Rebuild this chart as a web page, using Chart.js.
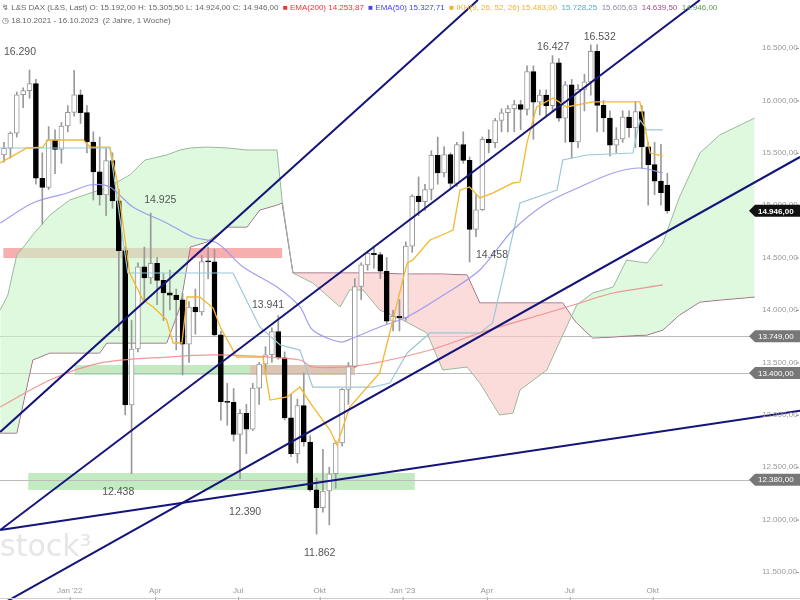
<!DOCTYPE html>
<html><head><meta charset="utf-8">
<script src="https://cdn.jsdelivr.net/npm/chart.js@4"></script>
<style>html,body{margin:0;padding:0;background:#fff}#w{width:800px;height:600px}</style>
</head><body><div id="w"><canvas id="c" width="800" height="600"></canvas></div>
<script>
// weekly candles 18.10.2021 - 16.10.2023 (index = week)
const opens=[15480,15543,15688,16054,16094,16160,15257,15169,15623,15532,15756,15885,16052,15883,15603,15318,15099,15425,15042,14567,13094,13628,14413,14305,14446,14283,14163,14142,14098,13674,14027,13982,14462,14460,13762,13126,13118,12813,13015,12864,13254,13484,13573,13795,13544,12971,12630,13088,12741,12284,12114,12273,12438,12731,13243,13460,14224,14431,14541,14529,14370,13893,13940,13924,14610,15086,15033,15150,15476,15307,15482,15209,15578,15427,14768,14957,15629,15597,15808,15882,15922,15961,15914,16275,15984,16051,15950,16358,15830,16148,15603,16105,16177,16469,15952,15832,15574,15632,15840,15740,15894,15557,15387,15230,15192];
const highs=[15600,15700,16080,16120,16290,16200,15500,15750,15720,15790,15950,16285,16100,15950,15700,15650,15540,15500,15150,14600,13900,14450,14600,14925,14500,14350,14380,14200,14160,14080,14200,14520,14600,14580,13800,13300,13250,13050,13100,13300,13500,13650,13830,13947,13600,13200,13150,13400,12800,12400,12670,12500,12750,13250,13500,14300,14450,14560,14600,14550,14500,14000,14100,14650,15100,15270,15200,15520,15650,15560,15500,15600,15700,15460,15100,15650,15720,15830,15920,15950,16000,16000,16330,16330,16100,16100,16427,16400,16180,16200,16150,16250,16530,16532,16000,15900,15740,15900,15900,15990,15950,15600,15600,15580,15305];
const lows=[15410,15450,15650,15930,16020,15200,14820,15150,15300,15400,15700,15850,15780,15500,15050,15000,14900,14970,13800,13000,12438,13600,14100,14250,14050,13900,14000,13620,13380,13500,13770,13950,14300,13750,12950,12900,12750,12390,12630,12850,13100,13400,13500,13530,12950,12600,12540,12700,12270,11862,12070,11950,12300,12700,13100,13450,14100,14380,14400,14300,13870,13800,13800,13900,14550,14900,14950,15050,15200,15270,15150,15180,15400,14458,14700,14950,15500,15550,15700,15700,15700,15720,15860,15630,15860,15850,15900,15800,15600,15450,15550,15900,16050,15700,15700,15470,15500,15600,15650,15550,15350,15000,15100,15000,14924];
const closes=[15543,15688,16054,16094,16160,15257,15169,15623,15532,15756,15885,16052,15883,15603,15318,15099,15425,15042,14567,13094,13628,14413,14305,14446,14283,14163,14142,14098,13674,14027,13982,14462,14460,13762,13126,13118,12813,13015,12864,13254,13484,13573,13795,13544,12971,12630,13088,12741,12284,12114,12273,12438,12731,13243,13460,14224,14431,14541,14529,14370,13893,13940,13924,14610,15086,15033,15150,15476,15307,15482,15209,15578,15427,14768,14957,15629,15597,15808,15882,15922,15961,15914,16275,15984,16051,15950,16358,15830,16148,15603,16105,16177,16469,15952,15832,15574,15632,15840,15740,15894,15557,15387,15230,15120,14946];

// Ichimoku cloud (week, price)
const cloudWeeks=[-0.6,0.6,2.0,3.3,4.5,7.2,10.3,15.0,16.1,19.7,22.1,25.5,27.6,29.2,31.8,35.0,38.1,40.1,42.8,43.6,45.3,48.4,52.7,54.2,56.3,58.9,62.5,66.3,68.8,72.6,74.6,77.7,79.8,80.9,85.1,87.6,89.2,89.8,92.3,95.5,97.6,100.8,103.3,105.9,109.1,112.2,117.7];
const spanA=[14000,14143,14525,14620,14716,14906,15050,15145,15164,15288,15431,15479,15527,15546,15555,15546,15527,15527,15527,15050,14353,14258,14029,14191,14191,14000,13905,13781,13427,13456,13303,12998,13017,13237,13427,13761,13971,14048,14162,14219,14477,14448,14639,15078,15498,15670,15832];
const spanB=[12826,12826,12826,13189,13523,13590,13590,13590,13685,13685,13685,13685,14029,14601,14649,14792,14792,14954,15002,15021,14353,14353,14353,14353,14353,14353,14343,14343,14343,14334,14067,14067,14067,14067,14067,14067,13924,13876,13733,13742,13752,13761,13809,13952,14076,14095,14124];

const tenkanW=[-0.6,3.6,6.1,6.9,12.4,13.5,16.6,17.7,19.7,21.8,23.4,25.5,26.5,27.9,28.7,30.7,32.8,33.9,36.5,40.6,41.7,44.4,46.4,48.0,51.1,52.2,54.2,58.9,63.2,64.1,66.8,69.4,70.4,71.5,73.0,74.6,76.6,79.8,80.9,82.0,83.5,86.1,88.2,92.3,99.7,101.3,103.3];
const tenkanP=[15403,15546,15555,15622,15622,15555,15555,15240,14353,14095,14029,13905,13685,13685,14124,14124,14019,13838,13551,13551,13141,13170,13265,13113,12855,12712,13074,13399,14448,14477,14668,14735,14763,15145,15174,15069,15116,15212,15221,15594,15937,16023,15937,15985,15985,15498,15469];
const kijunW=[-0.6,16.6,19.4,35.9,40.1,43.3,46.4,48.4,57.8,60.5,63.2,66.8,74.6,76.6,80.9,86.7,87.6,91.4,98.6,99.7,100.8,103.3];
const kijunP=[15546,15546,14353,14353,13838,13666,13618,13265,13265,13303,13590,13781,13781,13876,15021,15145,15431,15479,15498,15813,15718,15718];
const ema50W=[-0.6,4.5,9.9,13.5,16.6,20.2,25.5,29.6,33.4,37.5,42.8,46.4,48.4,52.7,54.7,58.9,63.2,69.4,74.6,79.8,85.1,90.3,95.5,99.7,103.3];
const ema50P=[14830,15021,15116,15193,15174,14983,14830,14697,14639,14410,14219,14029,13809,13695,13733,13838,13933,14162,14382,14763,15021,15174,15307,15355,15307];
const ema200W=[-0.6,7.2,15.0,25.5,33.4,46.4,48.4,56.3,66.8,74.6,85.1,90.3,95.5,103.3];
const ema200P=[13074,13332,13494,13551,13571,13523,13456,13475,13618,13781,13971,14067,14162,14239];

// trend lines: [w1,p1,w2,p2]
const trendLines=[[-0.6,12836,74.3,16958],[-0.6,11901,109.1,16958],[-0.6,11185,124.8,15460],[-0.6,11901,124.8,13040]];
const hLines=[13749,13400,12380];
// zones: [w1,w2,pLow,pHigh,color]
const zones=[[-0.1,43.6,14496,14592,'rgba(240,120,120,0.6)'],[11.1,55.0,13380,13475,'rgba(120,210,120,0.45)'],[38.6,55.0,13380,13475,'rgba(250,160,160,0.5)'],[3.8,64.4,12283,12445,'rgba(120,210,120,0.45)']];
const peakLabels=[['16.290',2.5,16462],['14.925',24.5,15050],['13.941',41.4,14048],['12.438',17.9,12263],['12.390',37.8,12073],['11.862',49.5,11681],['16.427',86.1,16510],['16.532',93.4,16605],['14.458',76.5,14525]];
const yTicks=[16500,16000,15500,15000,14500,14000,13500,13000,12500,12000,11500];
const xTickLabels=["Jan '22","Apr","Jul","Okt","Jan '23","Apr","Jul","Okt"];
const xTickWeeks=[10.3,23.7,36.7,49.5,62.5,75.7,88.7,101.7];
const tags=[[14946,'14.946,00','#111'],[13749,'13.749,00','#777'],[13400,'13.400,00','#777'],[12380,'12.380,00','#777']];

const fmt=v=>v.toLocaleString('de-DE',{minimumFractionDigits:2,maximumFractionDigits:2});
const pts=(W,P)=>W.map((w,i)=>({x:w,y:P[i]}));
const idx=closes.map((_,i)=>i);
const up=idx.map(i=>closes[i]>=opens[i]);

const datasets=[];
datasets.push({type:'line',data:pts(cloudWeeks,spanA),borderColor:'#9bb89b',borderWidth:1,pointRadius:0,order:10,
  fill:{target:'+1',above:'rgba(200,245,200,0.6)',below:'rgba(250,200,200,0.65)'}});
datasets.push({type:'line',data:pts(cloudWeeks,spanB),borderColor:'#8a5070',borderWidth:1,pointRadius:0,order:10,fill:false});
datasets.push({type:'bar',data:idx.map(i=>({x:i,y:[lows[i],highs[i]]})),backgroundColor:'#999',barThickness:1,grouped:false,order:6});
datasets.push({type:'bar',data:idx.map(i=>({x:i,y:[opens[i],closes[i]]})),backgroundColor:up.map(u=>u?'#fff':'#000'),
  borderColor:up.map(u=>u?'#999':'#000'),borderWidth:1,borderSkipped:false,barThickness:5,grouped:false,minBarLength:1,order:5});
datasets.push({type:'line',data:pts(ema200W,ema200P),borderColor:'rgba(240,140,140,0.9)',borderWidth:1.2,pointRadius:0,tension:0.3,order:4});
datasets.push({type:'line',data:pts(ema50W,ema50P),borderColor:'rgba(150,150,240,0.9)',borderWidth:1.2,pointRadius:0,tension:0.3,order:4});
datasets.push({type:'line',data:pts(kijunW,kijunP),borderColor:'#9cc8d8',borderWidth:1.2,pointRadius:0,order:4});
datasets.push({type:'line',data:pts(tenkanW,tenkanP),borderColor:'#f5b730',borderWidth:1.3,pointRadius:0,order:3});
trendLines.forEach(t=>datasets.push({type:'line',data:[{x:t[0],y:t[1]},{x:t[2],y:t[3]}],borderColor:'#14147a',borderWidth:2,pointRadius:0,order:1}));

const deco={id:'deco',
 beforeDatasetsDraw(ch){const c=ch.ctx,x=ch.scales.x,y=ch.scales.y;c.save();
  c.font='30px "DejaVu Sans"';c.fillStyle='#e6e6e6';c.fillText('stock³',0,556);
  zones.forEach(z=>{c.fillStyle=z[4];const x1=x.getPixelForValue(z[0]),x2=x.getPixelForValue(z[1]),y1=y.getPixelForValue(z[3]),y2=y.getPixelForValue(z[2]);c.fillRect(x1,y1,x2-x1,y2-y1);});
  c.strokeStyle='#bbb';c.lineWidth=1;hLines.forEach(h=>{const py=Math.round(y.getPixelForValue(h))+0.5;c.beginPath();c.moveTo(0,py);c.lineTo(750,py);c.stroke();});
  c.restore();},
 afterDatasetsDraw(ch){const c=ch.ctx,x=ch.scales.x,y=ch.scales.y;c.save();
  c.font='10.5px "Liberation Sans"';c.fillStyle='#555';c.textAlign='center';c.textBaseline='middle';
  peakLabels.forEach(l=>c.fillText(l[0],x.getPixelForValue(l[1]),y.getPixelForValue(l[2])));
  c.font='8px "Liberation Sans"';c.textAlign='left';c.fillStyle='#999';
  yTicks.forEach(t=>{const py=y.getPixelForValue(t);c.fillText(fmt(t),762,py);c.fillRect(796,py,3,1);});
  c.textAlign='center';xTickLabels.forEach((l,i)=>{const px=x.getPixelForValue(xTickWeeks[i]);c.fillText(l,px,591);c.fillRect(px,597,1,3);});
  c.fillStyle='#ccc';c.fillRect(0,598,800,1);
  tags.forEach(t=>{const py=y.getPixelForValue(t[0]);c.fillStyle=t[2];c.beginPath();c.moveTo(749,py);c.lineTo(755,py-6);c.lineTo(800,py-6);c.lineTo(800,py+6);c.lineTo(755,py+6);c.closePath();c.fill();
   c.fillStyle='#fff';c.font=(t[2]=='#111'?'bold ':'')+'8px "Liberation Sans"';c.textAlign='left';c.fillText(t[1],758,py+0.5);});
  c.textAlign='left';c.font='8px "Liberation Sans"';let px=2;
  const parts=[['↯ L&S DAX (L&S, Last) O: 15.192,00 H: 15.305,50 L: 14.924,00 C: 14.946,00  ','#666'],['■ EMA(200) 14.253,87  ','#e33'],['■ EMA(50) 15.327,71  ','#44e'],['■ IKH(9, 26, 52, 26) 15.483,00  ','#f0b030'],['15.728,25  ','#5aa8c8'],['15.605,63  ','#8a8aa8'],['14.639,50  ','#a05080'],['14.946,00','#5a9a5a']];
  parts.forEach(p=>{c.fillStyle=p[1];c.fillText(p[0],px,8);px+=c.measureText(p[0]).width;});
  c.fillStyle='#666';c.fillText('◷ 18.10.2021 - 16.10.2023  (2 Jahre, 1 Woche)',2,21);
  c.restore();}
};

new Chart(document.getElementById('c'),{
 data:{datasets},
 options:{responsive:false,animation:false,events:[],
  layout:{padding:0},
  plugins:{legend:{display:false},tooltip:{enabled:false}},
  scales:{x:{type:'linear',display:false,min:-0.63,max:124.8,offset:false},
          y:{type:'linear',display:false,min:11233,max:16958}}},
 plugins:[deco]});
</script></body></html>
